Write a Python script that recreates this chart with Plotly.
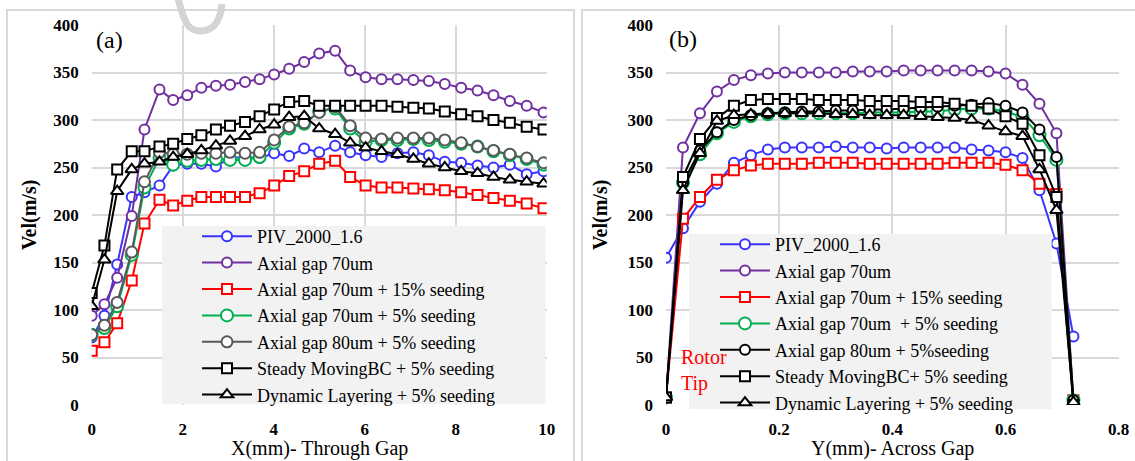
import plotly.graph_objects as go

W, H = 1135, 461

# ---------------- data: panel (a) ----------------
x_a = [0, 0.28, 0.56, 0.88, 1.16, 1.49, 1.79, 2.10, 2.41, 2.73, 3.04, 3.37, 3.69, 4.01, 4.34,
       4.67, 5.00, 5.35, 5.68, 6.02, 6.37, 6.72, 7.07, 7.41, 7.76, 8.12, 8.48, 8.83, 9.19, 9.56, 9.93]
piv_a = [71, 94, 148, 219, 224, 231, 252, 254, 254, 251, 260, 261, 260, 265, 262,
         270, 266, 273, 266, 263, 261, 265, 266, 263, 256, 255, 252, 250, 253, 243, 246]
ag70_a = [94, 106, 134, 199, 290, 332, 321, 326, 334, 336, 337, 340, 343, 348, 354,
          361, 370, 373, 352, 345, 343, 343, 342, 341, 338, 334, 331, 326, 320, 315, 308]
s15_a = [57, 66, 86, 131, 191, 216, 210, 215, 219, 219, 219, 219, 223, 231, 241,
         246, 254, 257, 240, 231, 229, 229, 228, 227, 226, 224, 221, 218, 215, 212, 207]
g70_a = [74, 81, 104, 158, 229, 260, 253, 257, 258, 259, 258, 258, 261, 276, 291,
         296, 309, 312, 291, 277, 279, 279, 280, 279, 277, 275, 272, 267, 263, 259, 253]
g80_a = [74, 84, 108, 161, 235, 266, 264, 264, 265, 265, 266, 265, 266, 279, 293,
         297, 308, 314, 294, 281, 280, 281, 281, 281, 279, 276, 272, 268, 264, 260, 255]
steady_a = [118, 168, 248, 267, 267, 272, 275, 280, 284, 290, 294, 298, 304, 311, 319,
            320, 315, 315, 315, 315, 315, 314, 313, 312, 309, 306, 304, 300, 297, 293, 290]
dyn_a = [104, 153, 225, 248, 254, 256, 261, 264, 268, 273, 278, 283, 290, 295, 303,
         304, 291, 285, 276, 271, 267, 264, 259, 254, 250, 246, 244, 240, 237, 235, 233]

# ---------------- data: panel (b) ----------------
x_b = [0, 0.03, 0.06, 0.09, 0.12, 0.15, 0.18, 0.21, 0.24, 0.27, 0.30, 0.33, 0.36,
       0.39, 0.42, 0.45, 0.48, 0.51, 0.54, 0.57, 0.60, 0.63, 0.66, 0.69, 0.72]
piv_b = [155, 186, 214, 233, 255, 263, 269, 271, 271, 271, 272, 271, 271,
         270, 271, 271, 271, 271, 269, 268, 266, 260, 226, 170, 72]
ag70_b = [8, 271, 307, 330, 342, 347, 349, 350, 350, 350, 350, 351, 351,
          351, 352, 352, 352, 352, 352, 351, 349, 337, 317, 286, 5]
s15_b = [8, 196, 219, 237, 247, 252, 254, 254, 254, 255, 255, 255, 254,
         254, 254, 254, 254, 255, 255, 255, 253, 247, 233, 222, 5]
g70_b = [8, 234, 264, 286, 298, 304, 306, 307, 307, 307, 307, 307, 308,
         308, 308, 309, 309, 311, 312, 312, 309, 303, 284, 258, 5]
g80_b = [8, 234, 268, 287, 300, 305, 307, 308, 309, 309, 310, 310, 311,
         311, 312, 313, 314, 315, 316, 318, 315, 308, 290, 261, 5]
steady_b = [8, 240, 280, 302, 315, 321, 322, 322, 322, 321, 321, 321, 320,
            320, 320, 319, 319, 317, 315, 312, 304, 296, 263, 219, 0]
dyn_b = [8, 226, 265, 299, 305, 306, 307, 307, 307, 307, 306, 306, 305,
         305, 305, 304, 303, 302, 300, 294, 288, 283, 248, 205, 3]

names_a = ["PIV_2000_1.6", "Axial gap 70um", "Axial gap 70um + 15% seeding",
           "Axial gap 70um + 5% seeding", "Axial gap 80um + 5% seeding",
           "Steady MovingBC + 5% seeding", "Dynamic Layering + 5% seeding"]
names_b = ["PIV_2000_1.6", "Axial gap 70um", "Axial gap 70um + 15% seeding",
           "Axial gap 70um  + 5% seeding", "Axial gap 80um + 5%seeding",
           "Steady MovingBC+ 5% seeding", "Dynamic Layering + 5% seeding"]

BLUE, PURPLE, RED, GREEN, GRAY, BLACK = "#3a33ff", "#7030a0", "#ff0000", "#00b050", "#595959", "#000000"
styles_a = [(BLUE, "circle", 10), (PURPLE, "circle", 10), (RED, "square", 10),
            (GREEN, "circle", 12), (GRAY, "circle", 11), (BLACK, "square", 10),
            (BLACK, "triangle-up", 11)]
styles_b = [(BLUE, "circle", 10), (PURPLE, "circle", 10), (RED, "square", 10),
            (GREEN, "circle", 12), (BLACK, "circle", 10), (BLACK, "square", 10),
            (BLACK, "triangle-up", 11)]

SERIF = "Liberation Serif"
fig = go.Figure()

for ys, nm, (c, sym, sz) in zip([piv_a, ag70_a, s15_a, g70_a, g80_a, steady_a, dyn_a], names_a, styles_a):
    fig.add_trace(go.Scatter(x=x_a, y=ys, name=nm, mode="lines+markers",
                             line=dict(color=c, width=2),
                             marker=dict(symbol=sym, size=sz, color="white", line=dict(color=c, width=2)),
                             xaxis="x", yaxis="y", legend="legend"))
for ys, nm, (c, sym, sz) in zip([piv_b, ag70_b, s15_b, g70_b, g80_b, steady_b, dyn_b], names_b, styles_b):
    fig.add_trace(go.Scatter(x=x_b, y=ys, name=nm, mode="lines+markers",
                             line=dict(color=c, width=2),
                             marker=dict(symbol=sym, size=sz, color="white", line=dict(color=c, width=2)),
                             xaxis="x2", yaxis="y2", legend="legend2"))

def px(x):
    return x / W

def py(y):
    return 1 - y / H

GRID = "#d9d9d9"
tickfont = dict(family=SERIF, size=17, color="black", weight="bold")
ydom = [py(405), py(25)]
common_x = dict(showgrid=True, gridcolor=GRID, gridwidth=2, zeroline=False, showline=False,
                ticks="", tickfont=tickfont, ticklabelstandoff=12, fixedrange=True, automargin=False)
common_y = dict(showgrid=True, gridcolor=GRID, gridwidth=2, zeroline=False, showline=False,
                ticks="", tickfont=tickfont, ticklabelstandoff=12, range=[0, 400], dtick=50,
                domain=ydom, fixedrange=True, automargin=False)

legend_common = dict(bgcolor="rgba(0,0,0,0)", borderwidth=0, xanchor="left", yanchor="top",
                     font=dict(family=SERIF, size=18, color="black"), itemwidth=50,
                     tracegroupgap=0)

fig.update_layout(
    width=W, height=H, margin=dict(l=0, r=0, t=0, b=0, autoexpand=False),
    paper_bgcolor="white", plot_bgcolor="white",
    xaxis=dict(common_x, domain=[px(91.7), px(546.7)], range=[0, 10], dtick=2, anchor="y"),
    yaxis=dict(common_y, anchor="x"),
    xaxis2=dict(common_x, domain=[px(666), px(1118.7)], range=[0, 0.8], dtick=0.2, anchor="y2"),
    yaxis2=dict(common_y, anchor="x2"),
    legend=dict(legend_common, x=px(197), y=py(218)),
    legend2=dict(legend_common, x=px(715), y=py(226)),
    showlegend=True,
)

# faint watermark arc at the top of panel (a)
wm = [(178, -2), (184, 22), (200, 31), (216, 24), (222, 4)]
wm_path = "M {},{} C {},{} {},{} {},{} S {},{} {},{}".format(
    px(wm[0][0]), py(wm[0][1]), px(wm[1][0]), py(wm[1][1]), px(wm[1][0] + 4), py(wm[2][1]),
    px(wm[2][0]), py(wm[2][1]), px(wm[3][0] + 4), py(wm[3][1]), px(wm[4][0]), py(wm[4][1]))

shapes = [
    # panel frames
    dict(type="rect", xref="paper", yref="paper", x0=px(7), x1=px(574), y0=py(470), y1=py(10),
         line=dict(color=GRID, width=2), fillcolor="rgba(0,0,0,0)", layer="below"),
    dict(type="rect", xref="paper", yref="paper", x0=px(582), x1=px(1145), y0=py(470), y1=py(10),
         line=dict(color=GRID, width=2), fillcolor="rgba(0,0,0,0)", layer="below"),
    dict(type="path", xref="paper", yref="paper", path=wm_path,
         line=dict(color="#d4d4d4", width=7), layer="below"),
    # legend backgrounds
    dict(type="rect", xref="paper", yref="paper", x0=px(162), x1=px(545.5), y0=py(404), y1=py(226),
         line=dict(width=0), fillcolor="#f2f2f2", layer="above"),
    dict(type="rect", xref="paper", yref="paper", x0=px(689), x1=px(1051.7), y0=py(409), y1=py(234),
         line=dict(width=0), fillcolor="#f2f2f2", layer="above"),
]
fig.update_layout(shapes=shapes)

annotations = [
    dict(text="(a)", x=px(94), y=py(40), xanchor="left", yanchor="middle",
         font=dict(family=SERIF, size=24, color="black")),
    dict(text="(b)", x=px(667), y=py(39), xanchor="left", yanchor="middle",
         font=dict(family=SERIF, size=24, color="black")),
    dict(text="Vel(m/s)", x=px(30), y=py(215), textangle=-90, xanchor="center", yanchor="middle",
         font=dict(family=SERIF, size=20, color="black", weight="bold")),
    dict(text="Vel(m/s)", x=px(601), y=py(215), textangle=-90, xanchor="center", yanchor="middle",
         font=dict(family=SERIF, size=20, color="black", weight="bold")),
    dict(text="X(mm)- Through Gap", x=px(319), y=py(448), xanchor="center", yanchor="middle",
         font=dict(family=SERIF, size=20, color="black")),
    dict(text="Y(mm)- Across Gap", x=px(892), y=py(448), xanchor="center", yanchor="middle",
         font=dict(family=SERIF, size=20, color="black")),
    dict(text="Rotor<br>Tip", x=px(679), y=py(370), xanchor="left", yanchor="middle", align="left",
         font=dict(family=SERIF, size=20, color="#ff0000")),
]
for a in annotations:
    a.update(xref="paper", yref="paper", showarrow=False)
fig.update_layout(annotations=annotations)

fig.write_html("out.html")
